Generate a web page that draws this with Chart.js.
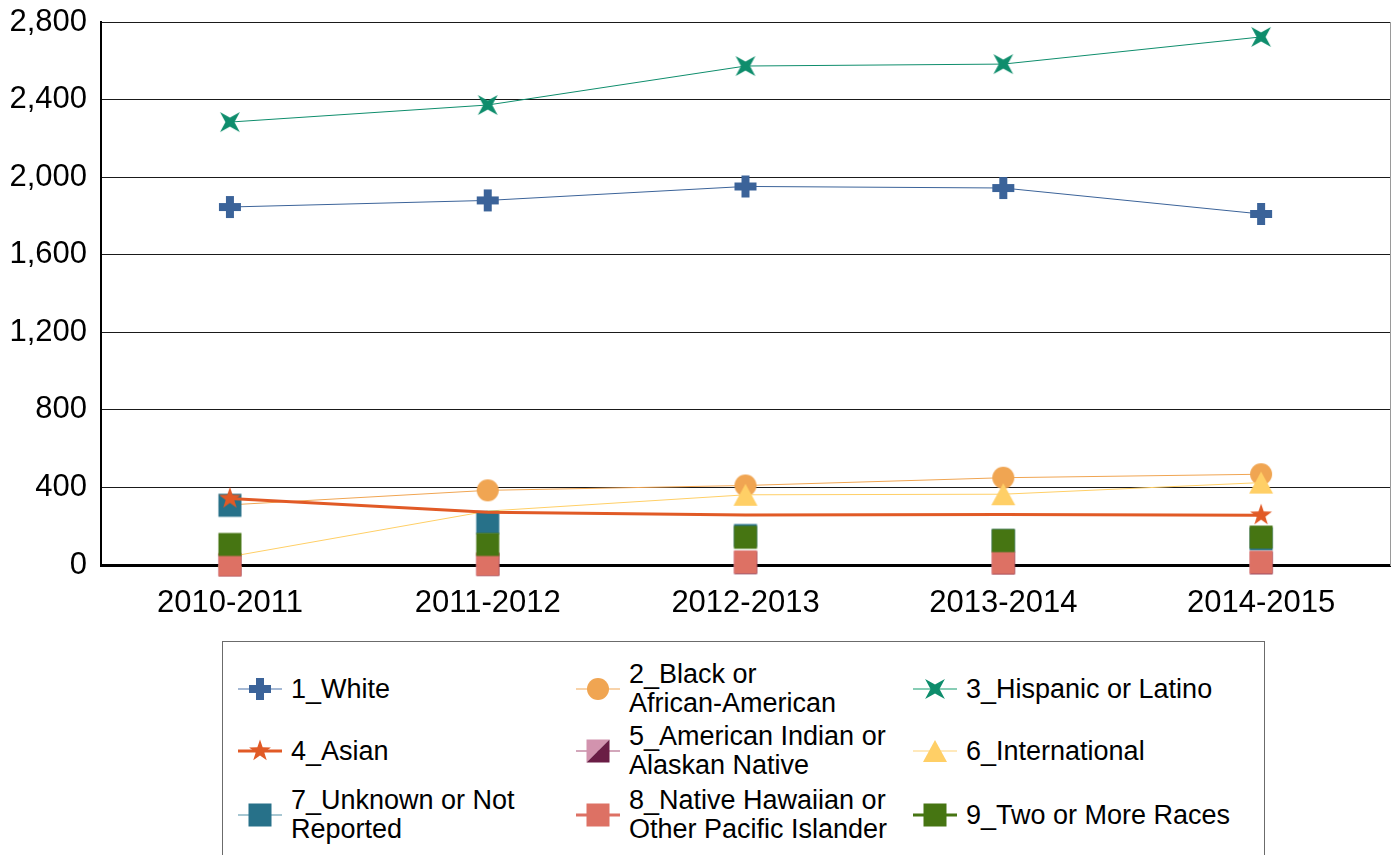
<!DOCTYPE html>
<html>
<head>
<meta charset="utf-8">
<script src="https://cdn.jsdelivr.net/npm/chart.js@4.4.1/dist/chart.umd.min.js"></script>
<style>
  body { margin: 0; background: #fff; font-family: "Liberation Sans", Arial, sans-serif; }
  #wrap { position: relative; width: 1398px; height: 855px; overflow: hidden; }
  #legendBox { position: absolute; left: 222px; top: 641px; width: 1043px; height: 240px;
               border: 1px solid #6b6b6b; box-sizing: border-box; }
  .item { position: absolute; display: flex; align-items: center; transform: translateY(-50%); }
  .item span { font-size: 27px; line-height: 29px; color: #000; margin-left: 7px; white-space: nowrap; }
</style>
</head>
<body>
<div id="wrap">
  <canvas id="raceChart" width="1398" height="640"></canvas>
  <div id="legendBox"></div>
</div>
<script>
// data
const years = ['2010-2011', '2011-2012', '2012-2013', '2013-2014', '2014-2015'];
const yTicks = [0, 400, 800, 1200, 1600, 2000, 2400, 2800];

const white         = [1846, 1880, 1952, 1944, 1810];
const black         = [310, 385, 410, 450, 468];
const hispanic      = [2284, 2372, 2573, 2583, 2723];
const asian         = [343, 272, 258, 260, 257];
const amIndian      = [2, 4, 13, 11, 12];   // hidden under series 8 in the picture
const international = [43, 278, 362, 365, 425];
const unknown       = [308, 219, 152, 126, 135];
const hawaiian      = [1, 4, 15, 12, 14];
const twoOrMore     = [106, 106, 143, 126, 144];

// marker pictures, used for the points and the legend
function marker(kind, fill, fill2) {
  const c = document.createElement('canvas');
  c.width = 30; c.height = 30;
  const g = c.getContext('2d');
  const m = 15;
  g.fillStyle = fill;
  g.beginPath();
  if (kind === 'plus') {
    g.fillRect(m - 11, m - 4, 22, 8);
    g.fillRect(m - 4, m - 11, 8, 22);
  } else if (kind === 'star4') {
    for (let k = 0; k < 8; k++) {
      const a = k * Math.PI / 4;
      const r = k % 2 ? 14 : 4.5;
      const px = m + r * Math.cos(a), py = m + r * Math.sin(a);
      k ? g.lineTo(px, py) : g.moveTo(px, py);
    }
    g.closePath(); g.fill();
  } else if (kind === 'star5') {
    for (let k = 0; k < 10; k++) {
      const a = -Math.PI / 2 + k * Math.PI / 5;
      const r = k % 2 ? 4.5 : 11.5;
      const px = m + r * Math.cos(a), py = m + r * Math.sin(a);
      k ? g.lineTo(px, py) : g.moveTo(px, py);
    }
    g.closePath(); g.fill();
  } else if (kind === 'circle') {
    g.arc(m, m, 11, 0, Math.PI * 2); g.fill();
  } else if (kind === 'triangle') {
    g.moveTo(m, m - 11); g.lineTo(m + 12, m + 11); g.lineTo(m - 12, m + 11);
    g.closePath(); g.fill();
  } else if (kind === 'square') {
    g.fillRect(m - 11.5, m - 11.5, 23, 23);
  } else if (kind === 'split') {
    g.moveTo(m - 11.5, m - 11.5); g.lineTo(m + 11.5, m - 11.5); g.lineTo(m - 11.5, m + 11.5);
    g.closePath(); g.fill();
    g.fillStyle = fill2;
    g.beginPath();
    g.moveTo(m + 11.5, m - 11.5); g.lineTo(m + 11.5, m + 11.5); g.lineTo(m - 11.5, m + 11.5);
    g.closePath(); g.fill();
  }
  return c;
}

// z: higher is drawn on top
const series = [
  { label: '1_White', data: white, kind: 'plus', color: '#3B6399', line: 1, legLine: '#86a0c6', legW: 1.5, z: 1 },
  { label: '2_Black or<br>African-American', data: black, kind: 'circle', color: '#F0A552', line: 1, legLine: '#f6c48e', legW: 1.5, z: 2 },
  { label: '3_Hispanic or Latino', data: hispanic, kind: 'star4', color: '#0E8D6C', line: 1, legLine: '#5fbd9c', legW: 1.5, z: 3 },
  { label: '4_Asian', data: asian, kind: 'star5', color: '#E15A26', line: 3, legLine: '#E15A26', legW: 3,
    radius: [12, 0, 0, 0, 12], z: 10 },
  { label: '5_American Indian or<br>Alaskan Native', data: amIndian, kind: 'split', color: '#D293AE', color2: '#6A1D45',
    line: 0, legLine: '#c48aa5', legW: 1.5, z: 4 },
  { label: '6_International', data: international, kind: 'triangle', color: '#FFCF66', line: 1, legLine: '#ffe2a6', legW: 1.5,
    radius: [12, 0, 12, 12, 12], z: 5 },
  { label: '7_Unknown or Not<br>Reported', data: unknown, kind: 'square', color: '#277189', line: 0, legLine: '#8ab4c3', legW: 1.5, z: 6 },
  { label: '8_Native Hawaiian or<br>Other Pacific Islander', data: hawaiian, kind: 'square', color: '#DD7164', line: 0, legLine: '#DD7164', legW: 3, z: 7 },
  { label: '9_Two or More Races', data: twoOrMore, kind: 'square', color: '#467512', line: 0, legLine: '#467512', legW: 3, z: 8 }
];

const datasets = series.map((s) => ({
  label: s.label.replace('<br>', ' '),
  data: s.data,
  borderColor: s.color,
  backgroundColor: s.color,
  borderWidth: s.line || 1,
  showLine: s.line > 0,
  tension: 0,
  clip: false,
  pointStyle: marker(s.kind, s.color, s.color2),
  pointRadius: s.radius || 12,
  pointHoverRadius: s.radius || 12,
  order: 20 - s.z
}));

const tickFont = { family: '"Liberation Sans", Arial, sans-serif', size: 31 };

new Chart(document.getElementById('raceChart'), {
  type: 'line',
  data: { labels: years, datasets: datasets },
  options: {
    responsive: false,
    animation: false,
    layout: { autoPadding: false, padding: { top: 22, left: 0, right: 8, bottom: 0 } },
    plugins: { legend: { display: false }, tooltip: { enabled: false } },
    scales: {
      x: {
        offset: true,
        grid: { display: false },
        border: { color: '#000', width: 3 },
        ticks: { color: '#000', font: tickFont, padding: 12, maxRotation: 0 },
        afterFit: (s) => { s.height = 75; s.paddingLeft = 0; s.paddingRight = 0; }
      },
      y: {
        min: 0, max: 2800,
        afterBuildTicks: (s) => { s.ticks = yTicks.map(v => ({ value: v })); },
        grid: { color: '#1a1a1a', lineWidth: 1, drawTicks: false },
        border: { color: '#000', width: 2 },
        ticks: { color: '#000', font: tickFont, padding: 14,
                 callback: (v) => v.toLocaleString('en-US') },
        afterFit: (s) => { s.width = 101; s.paddingTop = 0; s.paddingBottom = 0; }
      },
      y2: {
        position: 'right',
        min: 0, max: 2800,
        grid: { display: false, drawTicks: false },
        border: { color: '#9a9a9a', width: 1 },
        ticks: { display: false, padding: 0 },
        afterFit: (s) => { s.width = 0; s.paddingTop = 0; s.paddingBottom = 0; }
      }
    }
  }
});

// legend, three columns
const wrap = document.getElementById('wrap');
const colX = [236, 574, 911];
const rowY = [689, 751, 815];
series.forEach((s, i) => {
  const item = document.createElement('div');
  item.className = 'item';
  item.style.left = colX[i % 3] + 'px';
  item.style.top = rowY[Math.floor(i / 3)] + 'px';
  const sym = document.createElement('canvas');
  sym.width = 48; sym.height = 30;
  const g = sym.getContext('2d');
  g.strokeStyle = s.legLine;
  g.lineWidth = s.legW;
  g.beginPath(); g.moveTo(2, 15); g.lineTo(46, 15); g.stroke();
  g.drawImage(marker(s.kind, s.color, s.color2), 9, 0);
  item.appendChild(sym);
  const txt = document.createElement('span');
  txt.innerHTML = s.label;
  item.appendChild(txt);
  wrap.appendChild(item);
});
</script>
</body>
</html>
